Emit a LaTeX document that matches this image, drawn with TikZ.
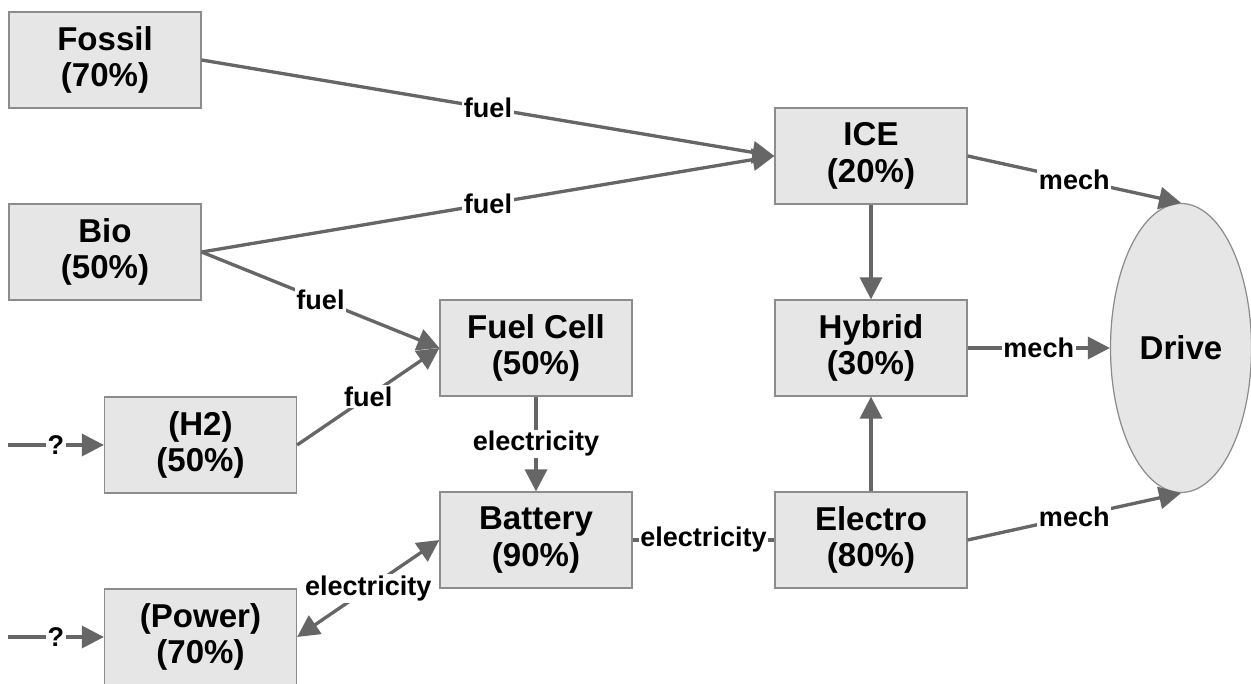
\documentclass[tikz,border=0pt]{standalone}
\usepackage{fontspec}
\setmainfont{Liberation Sans}
\usepackage{tikz}
\usetikzlibrary{shapes.geometric, arrows.meta, positioning}
\definecolor{boxfill}{RGB}{230,230,230}
\definecolor{boxframe}{RGB}{140,140,140}
\definecolor{flowgrey}{RGB}{102,102,102}
\tikzset{
  >={Triangle[length=12.5pt, width=12.5pt]},
  box/.style={rectangle, draw=boxframe, fill=boxfill,
    minimum width=3.84cm, minimum height=1.92cm, align=center,
    font=\fontsize{18.8}{21}\selectfont\bfseries, line width=0.7pt},
  drivenode/.style={ellipse, draw=boxframe, fill=boxfill,
    minimum width=2.82cm, minimum height=5.78cm, inner sep=0pt,
    font=\fontsize{18.8}{21}\selectfont\bfseries, line width=0.7pt},
  flow/.style={->, line width=1.9pt, color=flowgrey},
  lbl/.style={fill=white, inner sep=1pt, text=black,
    font=\fontsize{15.4}{17}\selectfont\bfseries}
}

\begin{document}
\begin{tikzpicture}
  \useasboundingbox (0,0) rectangle (25.02,13.68);

  % Sources (left side)
  \node[box] (fossil) at (2.10,12.48) {Fossil\\(70\%)};
  \node[box] (bio) at (2.10,8.64) {Bio\\(50\%)};
  \node[box] (htwo) at (4.01,4.78) {(H2)\\(50\%)};
  \node[box] (power) at (4.01,0.94) {(Power)\\(70\%)};
  \coordinate (hin) at (0.16,4.78);
  \coordinate (pin) at (0.16,0.94);

  % Converters
  \node[box] (fuelcell) at (10.72,6.72) {Fuel Cell\\(50\%)};
  \node[box] (battery) at (10.72,2.88) {Battery\\(90\%)};
  \node[box] (ice) at (17.42,10.56) {ICE\\(20\%)};
  \node[box] (hybrid) at (17.42,6.72) {Hybrid\\(30\%)};
  \node[box] (electro) at (17.42,2.88) {Electro\\(80\%)};
  \node[drivenode] (drive) at (23.62,6.72) {Drive};

  % Fuel flows
  \draw[flow] (fossil.east) -- node[lbl] {fuel} (ice.west);
  \draw[flow] (bio.east) -- node[lbl] {fuel} (ice.west);
  \draw[flow] (bio.east) -- node[lbl] {fuel} (fuelcell.west);
  \draw[flow] (htwo.east) -- node[lbl] {fuel} (fuelcell.west);
  \draw[flow] (hin) -- node[lbl] {?} (htwo.west);
  \draw[flow] (pin) -- node[lbl] {?} (power.west);

  % Electricity flows
  \draw[flow] (fuelcell.south) -- node[lbl] {electricity} (battery.north);
  \draw[flow, <->] (power.east) -- node[lbl] {electricity} (battery.west);
  \draw[flow, -] (battery.east) -- node[lbl] {electricity} (electro.west);

  % Mechanical flows
  \draw[flow] (ice.south) -- (hybrid.north);
  \draw[flow] (electro.north) -- (hybrid.south);
  \draw[flow] (ice.east) -- node[lbl] {mech} (drive.north);
  \draw[flow] (hybrid.east) -- node[lbl] {mech} (drive.west);
  \draw[flow] (electro.east) -- node[lbl] {mech} (drive.south);
\end{tikzpicture}
\end{document}
